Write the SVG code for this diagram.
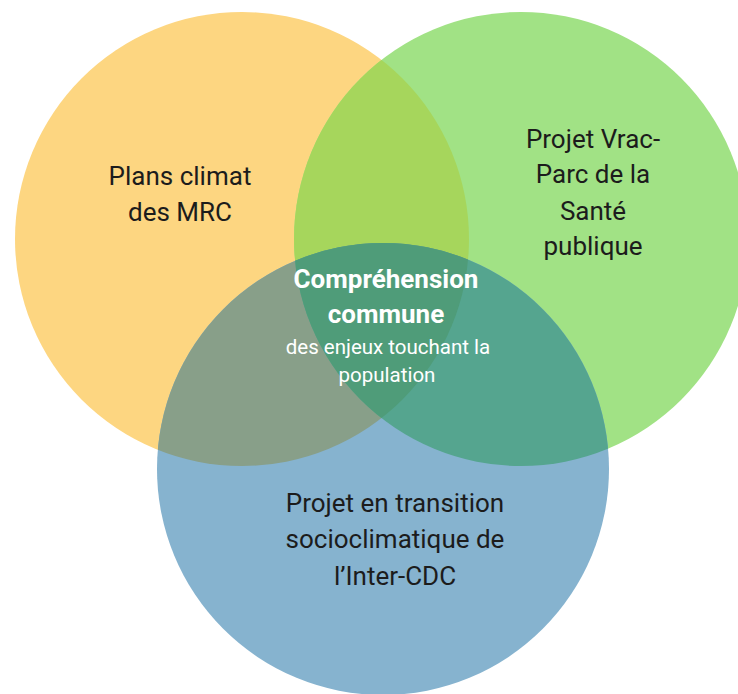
<svg xmlns="http://www.w3.org/2000/svg" width="738" height="694" viewBox="0 0 738 694">
<style>
.lbl{font-family:Roboto,"Liberation Sans",sans-serif;font-size:26px;fill:#1c1c1c;text-anchor:middle}
.ctr{font-family:Roboto,"Liberation Sans",sans-serif;fill:#ffffff;text-anchor:middle}
.b{font-size:26px;font-weight:bold}
.s{font-size:20.5px}
</style>
<defs>
<clipPath id="cO"><circle cx="242" cy="239" r="227"/></clipPath>
<clipPath id="cG"><circle cx="521" cy="239" r="227"/></clipPath>
<clipPath id="cB"><circle cx="383" cy="469" r="226"/></clipPath>
</defs>
<rect width="738" height="694" fill="#ffffff"/>
<g id="orange"><circle cx="242" cy="239" r="227" fill="#fdd681"/></g>
<g id="green"><circle cx="521" cy="239" r="227" fill="#a1e285"/></g>
<g id="blue"><circle cx="383" cy="469" r="226" fill="#86b3cf"/></g>
<g id="overlaps">
<g clip-path="url(#cO)"><circle cx="521" cy="239" r="227" fill="#a6d65c"/></g>
<g clip-path="url(#cO)"><circle cx="383" cy="469" r="226" fill="#889f89"/></g>
<g clip-path="url(#cG)"><circle cx="383" cy="469" r="226" fill="#55a58f"/></g>
<g clip-path="url(#cO)"><g clip-path="url(#cG)"><circle cx="383" cy="469" r="226" fill="#4f9c79"/></g></g>
</g>
<g id="connectors"/>
<g id="label-orange">
<text class="lbl" x="180" y="185">Plans climat</text>
<text class="lbl" x="180" y="221">des MRC</text>
</g>
<g id="label-green">
<text class="lbl" x="593" y="148">Projet Vrac-</text>
<text class="lbl" x="593" y="183">Parc de la</text>
<text class="lbl" x="593" y="220">Santé</text>
<text class="lbl" x="593" y="255">publique</text>
</g>
<g id="label-center">
<text class="ctr b" x="386" y="288">Compréhension</text>
<text class="ctr b" x="386" y="323">commune</text>
<text class="ctr s" x="388" y="354">des enjeux touchant la</text>
<text class="ctr s" x="387" y="382">population</text>
</g>
<g id="label-blue">
<text class="lbl" x="395" y="512">Projet en transition</text>
<text class="lbl" x="395" y="548">socioclimatique de</text>
<text class="lbl" x="395" y="585">l’Inter-CDC</text>
</g>
</svg>
